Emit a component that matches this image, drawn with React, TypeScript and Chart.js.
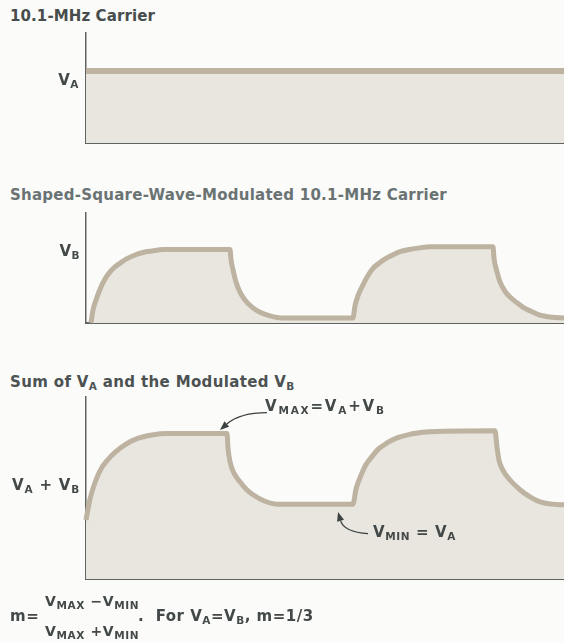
import React, { useEffect, useRef } from "react";
import { Chart, registerables } from "chart.js";

Chart.register(...registerables);

// ---------- data (time in arbitrary units, amplitude in units of V_A) ----------
const T_MAX = 478;

// Panel 1: 10.1-MHz carrier
const carrierT = [0, 478];
const carrierV = [1.0, 1.0];

// Panel 2: shaped-square-wave-modulated carrier
const modT = [5, 7, 10, 14, 19, 24, 29, 34, 41, 49, 57, 66, 77, 144, 145, 147, 150, 154, 159, 166, 174, 184, 196, 206, 267, 269, 272, 277, 282, 287, 293, 298, 306, 314, 323, 332, 344, 407, 408, 411, 414, 419, 424, 431, 438, 444, 454, 466, 478];
const modV = [0, 0.18, 0.32, 0.47, 0.61, 0.71, 0.78, 0.83, 0.895, 0.945, 0.98, 1.0, 1.02, 1.02, 0.88, 0.74, 0.57, 0.43, 0.32, 0.22, 0.15, 0.1, 0.07, 0.07, 0.07, 0.24, 0.38, 0.53, 0.66, 0.76, 0.83, 0.88, 0.94, 0.99, 1.02, 1.04, 1.06, 1.06, 0.9, 0.71, 0.57, 0.44, 0.36, 0.28, 0.21, 0.17, 0.11, 0.08, 0.07];

// Panel 3: sum of V_A and modulated V_B
const sumT = [0, 4, 9, 15, 22, 29, 40, 51, 66, 81, 141, 142, 144, 148, 154, 160, 167, 179, 191, 267, 270, 275, 280, 286, 292, 301, 311, 324, 337, 409, 411, 413, 417, 424, 434, 444, 454, 466, 478];
const sumV = [0.82, 1.11, 1.34, 1.53, 1.66, 1.76, 1.875, 1.95, 2.0, 2.02, 2.02, 1.82, 1.63, 1.47, 1.35, 1.25, 1.17, 1.08, 1.04, 1.04, 1.25, 1.44, 1.59, 1.7, 1.8, 1.89, 1.96, 2.01, 2.04, 2.06, 1.83, 1.65, 1.51, 1.375, 1.24, 1.14, 1.07, 1.04, 1.03];

// annotation arrows (start, control, tip) in data units of panel 3
const maxArrowT = [181, 154, 134];
const maxArrowV = [2.31, 2.31, 2.07];
const minArrowT = [282, 258, 252];
const minArrowV = [0.63, 0.65, 0.93];

// y-axis ranges
const Y_MAX_SMALL = 1.528;
const Y_MAX_SUM = 2.528;

// ---------- styles ----------
const BG = "#fbfbf9";
const FILL = "#e9e6df";
const LINE = "#bdb3a0";
const AXIS = "#5f6463";
const TEXT = "#434848";
const FONT = "'DejaVu Sans', 'Liberation Sans', Arial, sans-serif";
const PAD = 6;

const toPts = (t: number[], v: number[]) => t.map((x, i) => ({ x, y: v[i] }));

const arrowsPlugin = {
  id: "arrows",
  afterDatasetsDraw(chart: any) {
    const { ctx } = chart;
    const xs = chart.scales.x;
    const ys = chart.scales.y;
    const arrows = [
      [maxArrowT, maxArrowV],
      [minArrowT, minArrowV],
    ];
    ctx.save();
    ctx.strokeStyle = "#3c4242";
    ctx.fillStyle = "#3c4242";
    ctx.lineWidth = 1.3;
    for (const [ts, vs] of arrows) {
      const p = ts.map((t: number, i: number) => [xs.getPixelForValue(t), ys.getPixelForValue(vs[i])]);
      const [s, c, e] = p;
      const ang = Math.atan2(e[1] - c[1], e[0] - c[0]);
      const L = 9;
      const W = 3.6;
      const bx = e[0] - L * Math.cos(ang);
      const by = e[1] - L * Math.sin(ang);
      ctx.beginPath();
      ctx.moveTo(s[0], s[1]);
      ctx.quadraticCurveTo(c[0], c[1], bx, by);
      ctx.stroke();
      ctx.beginPath();
      ctx.moveTo(e[0], e[1]);
      ctx.lineTo(bx + W * Math.sin(ang), by - W * Math.cos(ang));
      ctx.lineTo(bx - W * Math.sin(ang), by + W * Math.cos(ang));
      ctx.closePath();
      ctx.fill();
    }
    ctx.restore();
  },
};

function makeChart(canvas: HTMLCanvasElement, pts: any[], yMax: number, lineW: number, withArrows: boolean) {
  return new Chart(canvas, {
    type: "line",
    data: {
      datasets: [
        {
          data: pts,
          borderColor: LINE,
          borderWidth: lineW,
          backgroundColor: FILL,
          fill: "origin",
          pointRadius: 0,
          cubicInterpolationMode: "monotone",
          borderJoinStyle: "round",
          clip: 8,
        } as any,
      ],
    },
    options: {
      responsive: false,
      animation: false,
      events: [],
      layout: { padding: { left: 86, right: 0, top: PAD, bottom: PAD } },
      plugins: { legend: { display: false }, tooltip: { enabled: false } },
      scales: {
        x: {
          type: "linear",
          min: 0,
          max: T_MAX,
          grid: { display: false, drawTicks: false },
          ticks: { display: false },
          border: { display: true, color: AXIS, width: 2 },
        },
        y: {
          type: "linear",
          min: 0,
          max: yMax,
          grid: { display: false, drawTicks: false },
          ticks: { display: false },
          border: { display: true, color: AXIS, width: 1.5 },
        },
      },
    } as any,
    plugins: withArrows ? [arrowsPlugin] : [],
  });
}

const Sub = ({ children }: { children: any }) => (
  <span style={{ fontSize: 10.5, position: "relative", top: 3 }}>{children}</span>
);

const txt = (left: number, top: number, size: number, extra: any = {}) => ({
  position: "absolute" as const,
  left,
  top,
  fontFamily: FONT,
  fontWeight: 700,
  fontSize: size,
  lineHeight: "20px",
  letterSpacing: 0.5,
  color: TEXT,
  whiteSpace: "nowrap" as const,
  ...extra,
});

export default function App() {
  const c1 = useRef<HTMLCanvasElement>(null);
  const c2 = useRef<HTMLCanvasElement>(null);
  const c3 = useRef<HTMLCanvasElement>(null);

  useEffect(() => {
    const charts = [
      makeChart(c1.current!, toPts(carrierT, carrierV), Y_MAX_SMALL, 6, false),
      makeChart(c2.current!, toPts(modT, modV), Y_MAX_SMALL, 5, false),
      makeChart(c3.current!, toPts(sumT, sumV), Y_MAX_SUM, 5, true),
    ];
    return () => charts.forEach((c) => c.destroy());
  }, []);

  const canvasStyle = (top: number, h: number) => ({
    position: "absolute" as const,
    left: 0,
    top,
    width: 564,
    height: h,
  });

  return (
    <div style={{ position: "relative", width: 564, height: 642, background: BG, overflow: "hidden" }}>
      <style>{`body{margin:0;background:${BG};}`}</style>

      <div style={txt(10, 6, 15, { letterSpacing: 0.1, color: "#474c4c" })}>10.1-MHz Carrier</div>
      <canvas ref={c1} width={564} height={122} style={canvasStyle(33 - PAD, 122)} />
      <div style={txt(0, 70, 15, { width: 79, textAlign: "right" })}>
        V<Sub>A</Sub>
      </div>

      <div style={txt(10, 185, 15, { letterSpacing: 0.25, color: "#6a7373" })}>
        Shaped-Square-Wave-Modulated 10.1-MHz Carrier
      </div>
      <canvas ref={c2} width={564} height={122} style={canvasStyle(213 - PAD, 122)} />
      <div style={txt(0, 241, 15, { width: 80, textAlign: "right" })}>
        V<Sub>B</Sub>
      </div>

      <div style={txt(10, 372, 15, { letterSpacing: 0.35, color: "#4c5252" })}>
        Sum of V<Sub>A</Sub> and the Modulated V<Sub>B</Sub>
      </div>
      <canvas ref={c3} width={564} height={194} style={canvasStyle(397 - PAD, 194)} />
      <div style={txt(0, 475, 15, { width: 80, textAlign: "right", letterSpacing: 0.8 })}>
        V<Sub>A</Sub> + V<Sub>B</Sub>
      </div>
      <div style={txt(265, 396, 15, { letterSpacing: 1.8 })}>
        V<Sub>MAX</Sub>=V<Sub>A</Sub>+V<Sub>B</Sub>
      </div>
      <div style={txt(373, 522, 15, { letterSpacing: 0.6 })}>
        V<Sub>MIN</Sub> = V<Sub>A</Sub>
      </div>

      <div style={txt(10, 606, 15)}>m=</div>
      <div style={txt(45, 591, 14, { letterSpacing: 0.6 })}>
        V<Sub>MAX</Sub> −V<Sub>MIN</Sub>
      </div>
      <div style={txt(45, 621, 14, { letterSpacing: 0.6 })}>
        V<Sub>MAX</Sub> +V<Sub>MIN</Sub>
      </div>
      <div style={txt(138, 606, 15, { letterSpacing: 0.5 })}>
        .&nbsp; For V<Sub>A</Sub>=V<Sub>B</Sub>, m=1/3
      </div>
    </div>
  );
}
